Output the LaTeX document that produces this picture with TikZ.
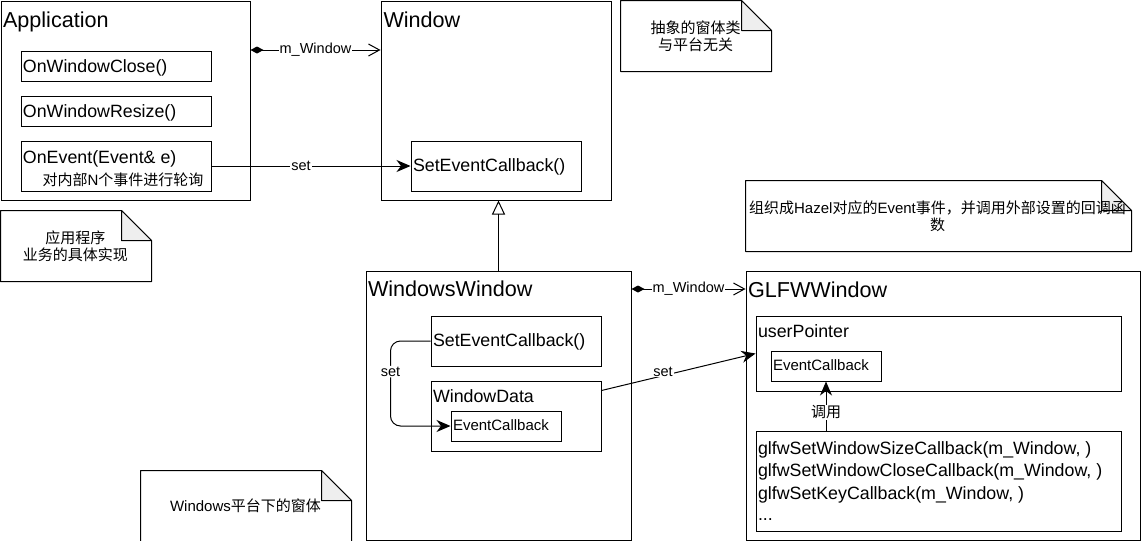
\documentclass[tikz,border=0pt]{standalone}
\usepackage{fontspec}
\setmainfont{Liberation Sans}
\newfontfamily\cjk{Noto Sans CJK SC}
\usetikzlibrary{arrows.meta}
\definecolor{foldgray}{HTML}{EEEEEE}
\begin{document}
\begin{tikzpicture}[x=1pt,y=-1pt,line width=1pt,
  box/.style={draw,rectangle,inner sep=0pt,anchor=north west},
  ghost/.style={rectangle,inner sep=0pt,anchor=north west},
  ttl/.style={anchor=base west,inner sep=0pt,font=\fontsize{21.6}{25}\selectfont},
  txt/.style={anchor=base west,inner sep=0pt,font=\fontsize{17.8}{22}\selectfont},
  small/.style={anchor=base west,inner sep=0pt,font=\fontsize{15}{18}\selectfont},
  lbl/.style={fill=white,inner sep=1pt,font=\fontsize{14.5}{17}\selectfont},
  notetxt/.style={align=center,inner sep=0pt,font=\fontsize{15}{17}\selectfont\cjk},
  fillarrow/.style={-{Stealth[length=14pt,width=12pt,inset=4.5pt]}},
  comp/.style={{Diamond[length=13pt,width=7pt]}-{Straight Barb[length=11pt,width=12pt]}},
  inherit/.style={-{Triangle[open,length=14pt,width=13pt]}},
  notefold/.style={draw,fill=foldgray,line join=round}
]
\useasboundingbox (0,0) rectangle (1141,541);

% ---------- Application ----------
\node[box,minimum width=249pt,minimum height=199pt] (app) at (0.5,0.5) {};
\node[ttl] (appT) at (2.5,27) {Application};
\node[box,minimum width=190pt,minimum height=30pt] (m1) at (20.5,50.5) {};
\node[txt] (m1T) at (22.5,72.7) {OnWindowClose()};
\node[box,minimum width=190pt,minimum height=30pt] (m2) at (20.5,95.5) {};
\node[txt] (m2T) at (22.5,117.7) {OnWindowResize()};
\node[box,minimum width=190pt,minimum height=50pt] (m3) at (20.5,140.5) {};
\node[txt] (m3T) at (22.5,163.3) {OnEvent(Event\& e)};
\node[small] (m3C) at (42,185) {{\cjk 对内部}N{\cjk 个事件进行轮询}};

% ---------- Window ----------
\node[box,minimum width=230pt,minimum height=199pt] (win) at (380.5,0.5) {};
\node[ttl] (winT) at (383,27) {Window};
\node[box,minimum width=170pt,minimum height=50pt] (sec) at (410.5,140.5) {};
\node[txt] (secT) at (412.5,171) {SetEventCallback()};

% ---------- WindowsWindow ----------
\node[box,minimum width=265pt,minimum height=269pt] (ww) at (365.5,270.5) {};
\node[ttl] (wwT) at (367.5,296.5) {WindowsWindow};
\node[box,minimum width=170pt,minimum height=50pt] (sec2) at (430.5,315.5) {};
\node[txt] (sec2T) at (432.5,346) {SetEventCallback()};
\node[box,minimum width=170pt,minimum height=70pt] (wd) at (430.5,380.5) {};
\node[txt] (wdT) at (432.5,402.7) {WindowData};
\node[box,minimum width=110pt,minimum height=30pt] (ec1) at (450.5,410.5) {};
\node[small] (ec1T) at (452.5,430.5) {EventCallback};

% ---------- GLFWWindow ----------
\node[box,minimum width=394pt,minimum height=269pt] (glfw) at (745.5,270.5) {};
\node[ttl] (glfwT) at (747.5,297) {GLFWWindow};
\node[box,minimum width=365pt,minimum height=75pt] (up) at (755.5,315.5) {};
\node[txt] (upT) at (757.5,337) {userPointer};
\node[box,minimum width=110pt,minimum height=30pt] (ec2) at (770.5,350.5) {};
\node[small] (ec2T) at (772.5,370.5) {EventCallback};
\node[box,minimum width=365pt,minimum height=100pt] (cb) at (755.5,430.5) {};
\node[txt] (cb1) at (757.5,454.3) {glfwSetWindowSizeCallback(m\_Window, )};
\node[txt] (cb2) at (757.5,476.7) {glfwSetWindowCloseCallback(m\_Window, )};
\node[txt] (cb3) at (757.5,499) {glfwSetKeyCallback(m\_Window, )};
\node[txt] (cb4) at (757.5,520.5) {...};

% ---------- Notes ----------
\node[ghost,minimum width=150pt,minimum height=70pt] (nAbs) at (620.5,0.5) {};
\node[ghost,minimum width=150pt,minimum height=70pt] (nApp) at (0.5,210.5) {};
\node[ghost,minimum width=385pt,minimum height=70pt] (nOrg) at (745.5,180.5) {};
\node[ghost,minimum width=210pt,minimum height=70pt] (nWin) at (140.5,470.5) {};
\foreach \n in {nAbs,nApp,nOrg,nWin}{
  \draw[line join=round] (\n.north west) -- ([xshift=-30pt]\n.north east) -- ([yshift=-30pt]\n.north east) -- (\n.south east) -- (\n.south west) -- cycle;
  \draw[notefold] ([xshift=-30pt]\n.north east) -- ([xshift=-30pt,yshift=-30pt]\n.north east) -- ([yshift=-30pt]\n.north east) -- cycle;
}
\node[notetxt] (nAbsT) at (695.5,36.5) {抽象的窗体类\\与平台无关};
\node[notetxt] (nAppT) at (75.5,246.5) {应用程序\\业务的具体实现};
\node[notetxt] (nOrgT) at (937.5,216.5) {组织成{\fontspec{Liberation Sans}Hazel}对应的{\fontspec{Liberation Sans}Event}事件，并调用外部设置的回调函\\数};
\node[small,anchor=center] (nWinT) at (245.5,505.5) {Windows{\cjk 平台下的窗体}};

% ---------- Connectors ----------
\coordinate (mwA) at ([yshift=-49.5pt]app.north east);
\draw[comp] (mwA) -- (mwA -| win.west) node[lbl,midway] (mwL) {m\_Window};
\draw[fillarrow] (m3.east) -- (sec.west) node[lbl,pos=0.45] (setL) {set};
\draw[inherit] (ww.north) -- (ww.north |- win.south);
\coordinate (mwB) at ([yshift=-18.5pt]ww.north east);
\draw[comp] (mwB) -- (mwB -| glfw.west) node[lbl,midway] (mwL2) {m\_Window};
\draw[fillarrow,rounded corners=10pt] (sec2.west) -- ++(-40,0) |- node[lbl,pos=0.18] (setL2) {set} (ec1.west);
\coordinate (wdA) at ([yshift=-10pt]wd.north east);
\draw[fillarrow] (wdA) -- (up.west) node[lbl,pos=0.4,yshift=4pt] (setL3) {set};
\draw[fillarrow] (ec2.south |- cb.north) -- (ec2.south) node[lbl,pos=0.37,font=\fontsize{15}{17}\selectfont\cjk] (callL) {调用};
\end{tikzpicture}
\end{document}
